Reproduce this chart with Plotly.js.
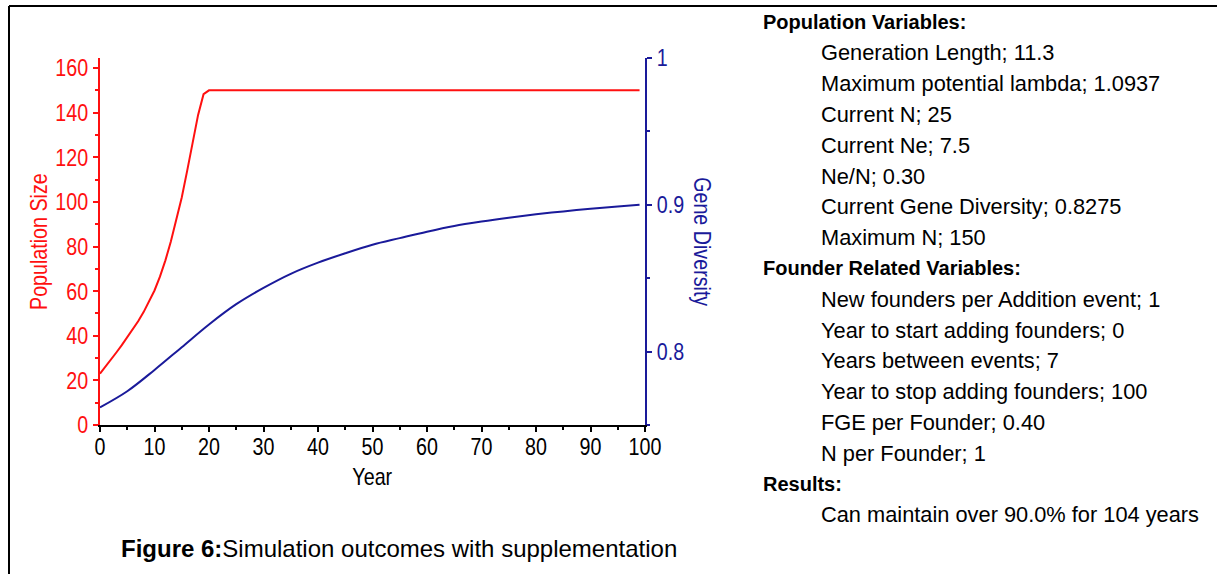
<!DOCTYPE html>
<html>
<head>
<meta charset="utf-8">
<script src="https://cdn.plot.ly/plotly-3.0.1.min.js"></script>
<style>
  html, body { margin: 0; padding: 0; background: #ffffff; }
  #chart { width: 1217px; height: 574px; }
</style>
</head>
<body>
<div id="chart"></div>
<script>
// ---- Data ----
const popYears = [0, 1, 2, 3, 4, 5, 6, 7, 8, 9, 10, 11, 12, 13, 14, 15, 16, 17, 18, 19, 20, 99];
const popSize  = [23, 26, 29.2, 32.5, 35.8, 39.2, 42.7, 46.5, 50.6, 55.2, 60.3, 66.5, 73.8, 82.2, 91.5, 102, 114, 127, 139, 148.3, 150, 150];

const gdYears = [0, 5, 10, 15, 20, 25, 30, 35, 40, 45, 50, 55, 60, 65, 70, 75, 80, 85, 90, 95, 99];
const geneDiv = [0.762, 0.773, 0.7875, 0.803, 0.8185, 0.8323, 0.8434, 0.853, 0.8606, 0.867, 0.8728, 0.8773, 0.8817, 0.8856, 0.8886, 0.8912, 0.8935, 0.8955, 0.8973, 0.8989, 0.9001];

const xTitle = "Year";
const yTitle = "Population Size";
const y2Title = "Gene Diversity";
const caption = "<b>Figure 6:</b>Simulation outcomes with supplementation";

const panelLines = [
  ["Population Variables:", true],
  ["Generation Length; 11.3", false],
  ["Maximum potential lambda; 1.0937", false],
  ["Current N; 25", false],
  ["Current Ne; 7.5", false],
  ["Ne/N; 0.30", false],
  ["Current Gene Diversity; 0.8275", false],
  ["Maximum N; 150", false],
  ["Founder Related Variables:", true],
  ["New founders per Addition event; 1", false],
  ["Year to start adding founders; 0", false],
  ["Years between events; 7", false],
  ["Year to stop adding founders; 100", false],
  ["FGE per Founder; 0.40", false],
  ["N per Founder; 1", false],
  ["Results:", true],
  ["Can maintain over 90.0% for 104 years", false]
];

// ---- Layout helpers (pixel -> paper) ----
const W = 1217, H = 574;
const L = 100, R = 645, T = 58, B = 425;
const px = x => (x - L) / (R - L);
const py = y => (B - y) / (B - T);

const RED = "#ff1010";
const BLUE = "#1a1a9a";
const sans = '"Liberation Sans", Arial, sans-serif';
const CHART_FONT = 24;

const traces = [
  {
    x: popYears, y: popSize, type: "scatter", mode: "lines",
    line: { color: RED, width: 2 }, yaxis: "y", name: yTitle, showlegend: false
  },
  {
    x: gdYears, y: geneDiv, type: "scatter", mode: "lines",
    line: { color: BLUE, width: 2, shape: "spline", smoothing: 1 }, yaxis: "y2", name: y2Title, showlegend: false
  }
];

const annotations = [];
panelLines.forEach((ln, i) => {
  annotations.push({
    xref: "paper", yref: "paper",
    x: px(ln[1] ? 761 : 819), y: py(22 + i * 30.8),
    xanchor: "left", yanchor: "middle",
    text: ln[1] ? "<b>" + ln[0] + "</b>" : ln[0],
    showarrow: false,
    font: { family: sans, size: ln[1] ? 20 : 21.8, color: "#000000" }
  });
});
annotations.push({
  xref: "paper", yref: "paper", x: px(399), y: py(548),
  xanchor: "center", yanchor: "middle", text: caption, showarrow: false,
  font: { family: sans, size: 24, color: "#000000" }
});
// axis titles
annotations.push({
  xref: "paper", yref: "paper", x: px(38), y: py(242),
  xanchor: "center", yanchor: "middle", text: yTitle, textangle: -90, showarrow: false,
  font: { family: sans, size: CHART_FONT, color: RED }
});
annotations.push({
  xref: "paper", yref: "paper", x: px(703), y: py(242),
  xanchor: "center", yanchor: "middle", text: y2Title, textangle: 90, showarrow: false,
  font: { family: sans, size: CHART_FONT, color: BLUE }
});
annotations.push({
  xref: "paper", yref: "paper", x: px(372), y: py(476),
  xanchor: "center", yanchor: "middle", text: xTitle, showarrow: false,
  font: { family: sans, size: CHART_FONT, color: "#000000" }
});

const layout = {
  width: W, height: H,
  margin: { l: L, r: W - R, t: T, b: H - B, pad: 0 },
  paper_bgcolor: "#ffffff", plot_bgcolor: "#ffffff",
  showlegend: false,
  xaxis: {
    range: [0, 100], dtick: 10, tick0: 0,
    showline: true, linecolor: "#000000", linewidth: 2,
    ticks: "outside", ticklen: 5, tickwidth: 2, tickcolor: "#000000",
    minor: { dtick: 5, ticklen: 3, tickwidth: 2, tickcolor: "#000000", showgrid: false },
    showgrid: false, zeroline: false, ticklabelstandoff: -6,
    tickfont: { family: sans, size: CHART_FONT, color: "#000000" }
  },
  yaxis: {
    range: [0, 164.5], dtick: 20, tick0: 0,
    showline: true, linecolor: RED, linewidth: 2,
    ticks: "outside", ticklen: 5, tickwidth: 2, tickcolor: RED,
    minor: { dtick: 10, ticklen: 3, tickwidth: 2, tickcolor: RED, showgrid: false },
    showgrid: false, zeroline: false,
    tickfont: { family: sans, size: CHART_FONT, color: RED }
  },
  yaxis2: {
    overlaying: "y", side: "right",
    range: [0.75, 1.0], dtick: 0.1, tick0: 0,
    showline: true, linecolor: BLUE, linewidth: 2,
    ticks: "outside", ticklen: 5, tickwidth: 2, tickcolor: BLUE,
    minor: { dtick: 0.05, ticklen: 3, tickwidth: 2, tickcolor: BLUE, showgrid: false },
    showgrid: false, zeroline: false,
    tickfont: { family: sans, size: CHART_FONT, color: BLUE }
  },
  shapes: [
    { type: "line", xref: "paper", yref: "paper", x0: px(9), x1: px(1217), y0: py(6), y1: py(6), line: { color: "#000000", width: 2 } },
    { type: "line", xref: "paper", yref: "paper", x0: px(9), x1: px(9), y0: py(6), y1: py(574), line: { color: "#000000", width: 2 } }
  ],
  annotations: annotations
};

// The chart's own labels are drawn in a narrow face in the reference: compress horizontally.
function condense(gd) {
  const titles = [xTitle, yTitle, y2Title];
  const nodes = Array.from(gd.querySelectorAll(".xtick text, .ytick text, .y2tick text, .annotation-text"));
  nodes.forEach(el => {
    const isTick = el.closest(".xtick, .ytick, .y2tick");
    if (!isTick && titles.indexOf(el.textContent) < 0) return;
    const len = el.getComputedTextLength();
    if (len > 0) {
      el.setAttribute("textLength", (len * 0.82).toFixed(2));
      el.setAttribute("lengthAdjust", "spacingAndGlyphs");
    }
  });
}

const gd = document.getElementById("chart");
Plotly.newPlot(gd, traces, layout, { staticPlot: true, displayModeBar: false }).then(() => condense(gd));
</script>
</body>
</html>
